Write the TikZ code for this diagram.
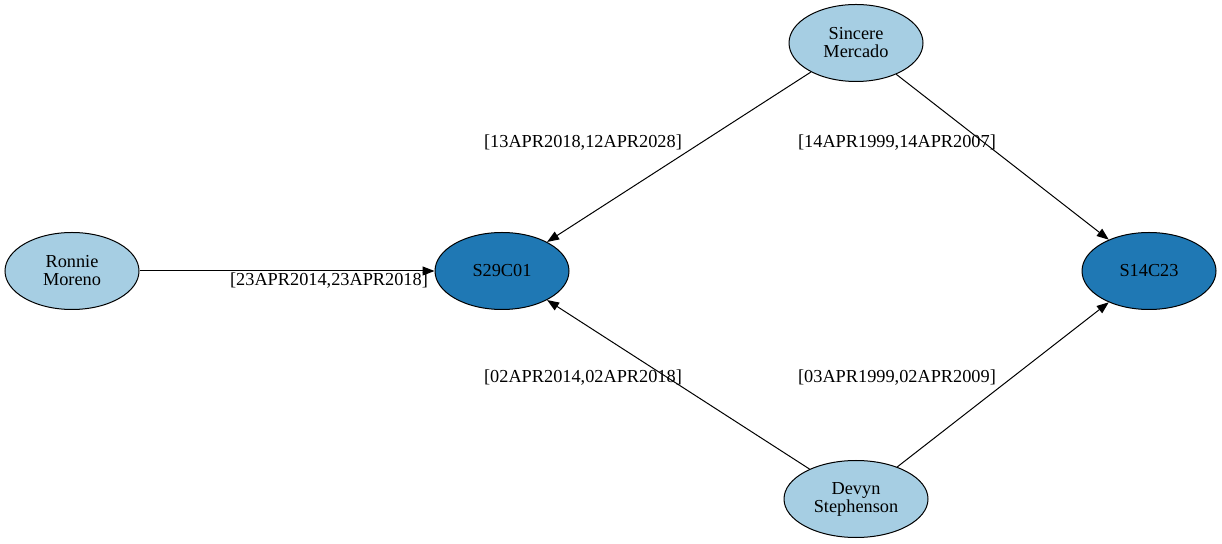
\documentclass[tikz,border=0pt]{standalone}
\usepackage{fontspec}
\setmainfont{Liberation Serif}
\usetikzlibrary{arrows.meta,shapes.geometric}

\definecolor{lightblue}{HTML}{A6CEE3}
\definecolor{darkblue}{HTML}{1F78B4}

\tikzset{
  person/.style={ellipse,draw,fill=lightblue,inner sep=0pt,
    minimum width=134pt,minimum height=77pt,align=center},
  station/.style={ellipse,draw,fill=darkblue,inner sep=0pt,
    minimum width=134pt,minimum height=77pt},
  period/.style={inner sep=1pt}
}

\begin{document}
\begin{tikzpicture}[x=1pt,y=1pt,line width=1pt,
    -{Triangle[length=12pt,width=9pt]},
    font=\fontsize{18.3}{18}\selectfont]
        \useasboundingbox (0,0) rectangle (1222,543);
        \node[person]  (rm) at (72,272)   {Ronnie\\Moreno};
        \node[station] (s29) at (502,272) {S29C01};
        \node[person]  (sm) at (856,500)  {Sincere\\Mercado};
        \node[station] (s14) at (1149,272) {S14C23};
        \node[person,minimum width=144pt] (ds) at (856,44) {Devyn\\Stephenson};
        \path (rm)  edge (s29);
        \path (sm)  edge (s29);
        \path (sm)  edge (s14);
        \path (ds)  edge (s29);
        \path (ds)  edge (s14);
        \node[period] (l1) at (329,262) {[23APR2014,23APR2018]};
        \node[period] (l2) at (583,400) {[13APR2018,12APR2028]};
        \node[period] (l3) at (897,400) {[14APR1999,14APR2007]};
        \node[period] (l4) at (583,165) {[02APR2014,02APR2018]};
        \node[period] (l5) at (897,165) {[03APR1999,02APR2009]};
      \end{tikzpicture}
\end{document}
